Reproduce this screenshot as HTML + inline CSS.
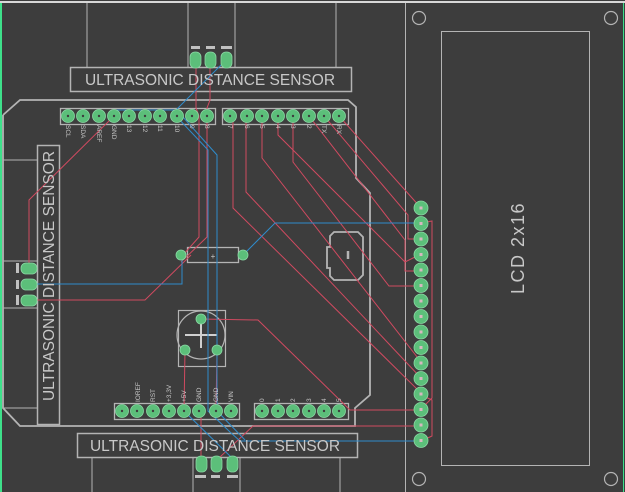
<!DOCTYPE html>
<html><head><meta charset="utf-8"><style>
html,body{margin:0;padding:0;background:#3d3d3d;}
svg{display:block;}
text{font-family:"Liberation Sans",sans-serif;fill:#c8c8c8;}
</style></head><body>
<svg width="625" height="492" viewBox="0 0 625 492" xmlns="http://www.w3.org/2000/svg">
<rect width="625" height="492" fill="#3d3d3d"/>
<line x1="0" y1="2" x2="625" y2="2" stroke="#d8d8d8" stroke-width="2"/>
<line x1="1" y1="3" x2="1" y2="492" stroke="#3ee08a" stroke-width="2"/>
<line x1="623.5" y1="3" x2="623.5" y2="492" stroke="#3ee08a" stroke-width="1"/>
<g fill="none" stroke="#b4b4b4" stroke-width="1">
<line x1="87" y1="3" x2="87" y2="67"/><line x1="188" y1="3" x2="188" y2="67"/>
<line x1="235" y1="3" x2="235" y2="67"/><line x1="336" y1="3" x2="336" y2="67"/>
<rect x="70.5" y="67.5" width="281" height="24" stroke-width="1.5"/>
<rect x="77.5" y="433.5" width="280" height="24" stroke-width="1.5"/>
<line x1="92" y1="457" x2="92" y2="492"/><line x1="193" y1="457" x2="193" y2="492"/>
<line x1="240" y1="457" x2="240" y2="492"/><line x1="340" y1="457" x2="340" y2="492"/>
<rect x="37.5" y="145.5" width="22" height="279" stroke-width="1.5"/>
<line x1="3" y1="160" x2="37" y2="160"/><line x1="3" y1="261" x2="37" y2="261"/>
<line x1="3" y1="308" x2="37" y2="308"/><line x1="3" y1="408" x2="37" y2="408"/>
<polyline stroke-width="1.8" points="3,115 20,100 348,100 356,107 356,178 370,193 370,395 355,408 355,426 20,426 3,408 3,115"/>
<rect x="60.5" y="108.5" width="155" height="16" stroke-width="1.3"/>
<rect x="222.5" y="108.5" width="126" height="16" stroke-width="1.3"/>
<rect x="114.5" y="403.5" width="125" height="16" stroke-width="1.3"/>
<rect x="254.5" y="403.5" width="94" height="16" stroke-width="1.3"/>
<rect x="187.5" y="247.5" width="51" height="15" stroke-width="1.3"/>
<rect x="178.5" y="310.5" width="47" height="56" stroke-width="1.2"/>
<circle cx="201" cy="335" r="24" stroke-width="1.2"/>
<line x1="185" y1="335" x2="217" y2="335" stroke="#d0d0d0" stroke-width="2"/>
<line x1="201" y1="320" x2="201" y2="348" stroke="#d0d0d0" stroke-width="2"/>
<path d="M334,232 L358,232 L363,237 L363,275 L358,280 L334,280 L330,276 L330,268 L327,268 L327,247 L330,247 L330,236 Z" stroke-width="1.8"/>
<line x1="348" y1="251" x2="348" y2="259" stroke-width="2.5"/>
<line x1="405.5" y1="3" x2="405.5" y2="492"/>
<rect x="441.5" y="31.5" width="148" height="434"/>
<circle cx="419" cy="18" r="6.5" stroke-width="1.2"/><circle cx="611" cy="18" r="6.5" stroke-width="1.2"/>
<circle cx="419" cy="479" r="6.5" stroke-width="1.2"/><circle cx="611" cy="479" r="6.5" stroke-width="1.2"/>
</g>
<g fill="none" stroke="#d04a60" stroke-width="1">
<polyline points="196,60 196,108 199,116 199,237 183,255"/>
<polyline points="210,60 210,100 207,108 207,237 181,262"/>
<polyline points="114,116 29,200 29,268"/>
<polyline points="29,300 145,300 191,255"/>
<polyline points="339,116 421,208"/>
<polyline points="324,116 408,215 408,239 421,239"/>
<polyline points="309,116 405,240 405,271 421,271"/>
<polyline points="293,116 293,162 389,286 421,286"/>
<polyline points="278,116 278,135 405,262 421,254"/>
<polyline points="262,116 262,158 421,362"/>
<polyline points="246,116 246,192 421,378"/>
<polyline points="233,116 233,208 421,393"/>
<polyline points="201,319 258,320 302,363 350,410 421,410"/>
<polyline points="421,426 253,426 220,457"/>
<polyline points="185,350 184,411"/>
<polyline points="217,350 216,411"/>
<polyline points="201,411 201,464"/>
<polyline points="421,223 432,221 432,398 421,409"/>
<polyline points="421,395 432,400 432,436 421,441"/>
</g>
<g fill="none" stroke="#2f8ccc" stroke-width="1">
<polyline points="226,60 176,110 113,110"/>
<polyline points="176,116 208,150 208,411 230,432 240,441 421,441"/>
<polyline points="182,116 217,155 217,411 245,440"/>
<polyline points="182,255 182,284 29,284"/>
<polyline points="243,255 275,223 421,223"/>
<polyline points="184,411 232,458"/>
</g>
<g fill="#5cbf7a" stroke="#8ad8a4" stroke-width="0.8">
<rect x="190" y="52" width="11" height="16" rx="5"/><rect x="205" y="52" width="11" height="16" rx="5"/><rect x="221" y="52" width="11" height="16" rx="5"/>
<rect x="196" y="456" width="11" height="16" rx="5"/><rect x="211" y="456" width="11" height="16" rx="5"/><rect x="227" y="456" width="11" height="16" rx="5"/>
<rect x="21" y="263" width="16" height="11" rx="5"/><rect x="21" y="279" width="16" height="11" rx="5"/><rect x="21" y="295" width="16" height="11" rx="5"/>
<circle cx="68" cy="116" r="6.5"/><circle cx="83" cy="116" r="6.5"/><circle cx="99" cy="116" r="6.5"/><circle cx="114" cy="116" r="6.5"/><circle cx="129" cy="116" r="6.5"/><circle cx="145" cy="116" r="6.5"/><circle cx="160" cy="116" r="6.5"/><circle cx="177" cy="116" r="6.5"/><circle cx="192" cy="116" r="6.5"/><circle cx="207" cy="116" r="6.5"/>
<circle cx="230" cy="116" r="6.5"/><circle cx="247" cy="116" r="6.5"/><circle cx="262" cy="116" r="6.5"/><circle cx="278" cy="116" r="6.5"/><circle cx="293" cy="116" r="6.5"/><circle cx="309" cy="116" r="6.5"/><circle cx="324" cy="116" r="6.5"/><circle cx="339" cy="116" r="6.5"/>
<circle cx="122" cy="411" r="6.5"/><circle cx="137" cy="411" r="6.5"/><circle cx="153" cy="411" r="6.5"/><circle cx="169" cy="411" r="6.5"/><circle cx="184" cy="411" r="6.5"/><circle cx="199" cy="411" r="6.5"/><circle cx="216" cy="411" r="6.5"/><circle cx="231" cy="411" r="6.5"/>
<circle cx="262" cy="411" r="6.5"/><circle cx="278" cy="411" r="6.5"/><circle cx="293" cy="411" r="6.5"/><circle cx="309" cy="411" r="6.5"/><circle cx="324" cy="411" r="6.5"/><circle cx="339" cy="411" r="6.5"/>
<circle cx="181" cy="255" r="5"/><circle cx="243" cy="255" r="5"/>
<circle cx="201" cy="319" r="5"/><circle cx="185" cy="350" r="5"/><circle cx="217" cy="350" r="5"/>
<circle cx="421" cy="208" r="7"/><circle cx="421" cy="223.5" r="7"/><circle cx="421" cy="239" r="7"/><circle cx="421" cy="254.5" r="7"/><circle cx="421" cy="270" r="7"/><circle cx="421" cy="285.5" r="7"/><circle cx="421" cy="301" r="7"/><circle cx="421" cy="316.5" r="7"/><circle cx="421" cy="332" r="7"/><circle cx="421" cy="347.5" r="7"/><circle cx="421" cy="363" r="7"/><circle cx="421" cy="378.5" r="7"/><circle cx="421" cy="394" r="7"/><circle cx="421" cy="409.5" r="7"/><circle cx="421" cy="425" r="7"/><circle cx="421" cy="440.5" r="7"/>
</g>
<g fill="#3d3d3d">
<circle cx="68" cy="116" r="1.2"/><circle cx="83" cy="116" r="1.2"/><circle cx="99" cy="116" r="1.2"/><circle cx="114" cy="116" r="1.2"/><circle cx="129" cy="116" r="1.2"/><circle cx="145" cy="116" r="1.2"/><circle cx="160" cy="116" r="1.2"/><circle cx="177" cy="116" r="1.2"/><circle cx="192" cy="116" r="1.2"/><circle cx="207" cy="116" r="1.2"/>
<circle cx="230" cy="116" r="1.2"/><circle cx="247" cy="116" r="1.2"/><circle cx="262" cy="116" r="1.2"/><circle cx="278" cy="116" r="1.2"/><circle cx="293" cy="116" r="1.2"/><circle cx="309" cy="116" r="1.2"/><circle cx="324" cy="116" r="1.2"/><circle cx="339" cy="116" r="1.2"/>
<circle cx="122" cy="411" r="1.2"/><circle cx="137" cy="411" r="1.2"/><circle cx="153" cy="411" r="1.2"/><circle cx="169" cy="411" r="1.2"/><circle cx="184" cy="411" r="1.2"/><circle cx="199" cy="411" r="1.2"/><circle cx="216" cy="411" r="1.2"/><circle cx="231" cy="411" r="1.2"/>
<circle cx="262" cy="411" r="1.2"/><circle cx="278" cy="411" r="1.2"/><circle cx="293" cy="411" r="1.2"/><circle cx="309" cy="411" r="1.2"/><circle cx="324" cy="411" r="1.2"/><circle cx="339" cy="411" r="1.2"/>
</g>
<g fill="#d7b8c0">
<rect x="419.5" y="206.5" width="3" height="3"/><rect x="419.5" y="222" width="3" height="3"/><rect x="419.5" y="237.5" width="3" height="3"/><rect x="419.5" y="253" width="3" height="3"/><rect x="419.5" y="268.5" width="3" height="3"/><rect x="419.5" y="284" width="3" height="3"/><rect x="419.5" y="299.5" width="3" height="3"/><rect x="419.5" y="315" width="3" height="3"/><rect x="419.5" y="330.5" width="3" height="3"/><rect x="419.5" y="346" width="3" height="3"/><rect x="419.5" y="361.5" width="3" height="3"/><rect x="419.5" y="377" width="3" height="3"/><rect x="419.5" y="392.5" width="3" height="3"/><rect x="419.5" y="408" width="3" height="3"/><rect x="419.5" y="423.5" width="3" height="3"/><rect x="419.5" y="439" width="3" height="3"/>
</g>
<g fill="#c0c0c0">
<rect x="191" y="46" width="9" height="3"/><rect x="206" y="46" width="9" height="3"/><rect x="221" y="46" width="11" height="3"/>
<rect x="195" y="475" width="11" height="3"/><rect x="211" y="475" width="9" height="3"/><rect x="227" y="475" width="11" height="3"/>
<rect x="16" y="263" width="3" height="10"/><rect x="16" y="280" width="3" height="9"/><rect x="16" y="295" width="3" height="10"/>
</g>
<text x="210" y="85" font-size="15.5" text-anchor="middle">ULTRASONIC DISTANCE SENSOR</text>
<text x="215" y="451" font-size="15.5" text-anchor="middle">ULTRASONIC DISTANCE SENSOR</text>
<text transform="translate(54,276) rotate(-90)" font-size="15.5" text-anchor="middle">ULTRASONIC DISTANCE SENSOR</text>
<text transform="translate(524,248) rotate(-90)" font-size="18" letter-spacing="1.5" text-anchor="middle">LCD 2x16</text>
<text x="213" y="259" font-size="8" text-anchor="middle">+</text>
<g font-size="6.5">
<text transform="translate(66,125) rotate(90)">SCL</text><text transform="translate(81,125) rotate(90)">SDA</text><text transform="translate(97,125) rotate(90)">AREF</text><text transform="translate(112,125) rotate(90)">GND</text><text transform="translate(127,125) rotate(90)">13</text><text transform="translate(143,125) rotate(90)">12</text><text transform="translate(158,125) rotate(90)">11</text><text transform="translate(175,125) rotate(90)">10</text><text transform="translate(190,125) rotate(90)">9</text><text transform="translate(205,125) rotate(90)">8</text>
<text transform="translate(228,125) rotate(90)">7</text><text transform="translate(245,125) rotate(90)">6</text><text transform="translate(260,125) rotate(90)">5</text><text transform="translate(276,125) rotate(90)">4</text><text transform="translate(291,125) rotate(90)">3</text><text transform="translate(307,125) rotate(90)">2</text><text transform="translate(322,125) rotate(90)">TX</text><text transform="translate(337,125) rotate(90)">RX</text>
<text transform="translate(140,402) rotate(-90)">IOREF</text><text transform="translate(155,402) rotate(-90)">RST</text><text transform="translate(171,402) rotate(-90)">+3,3V</text><text transform="translate(186,402) rotate(-90)">+5V</text><text transform="translate(201,402) rotate(-90)">GND</text><text transform="translate(218,402) rotate(-90)">GND</text><text transform="translate(233,402) rotate(-90)">VIN</text>
<text transform="translate(264,402) rotate(-90)">0</text><text transform="translate(280,402) rotate(-90)">1</text><text transform="translate(295,402) rotate(-90)">2</text><text transform="translate(311,402) rotate(-90)">3</text><text transform="translate(326,402) rotate(-90)">4</text><text transform="translate(341,402) rotate(-90)">5</text>
</g>
</svg>
</body></html>
